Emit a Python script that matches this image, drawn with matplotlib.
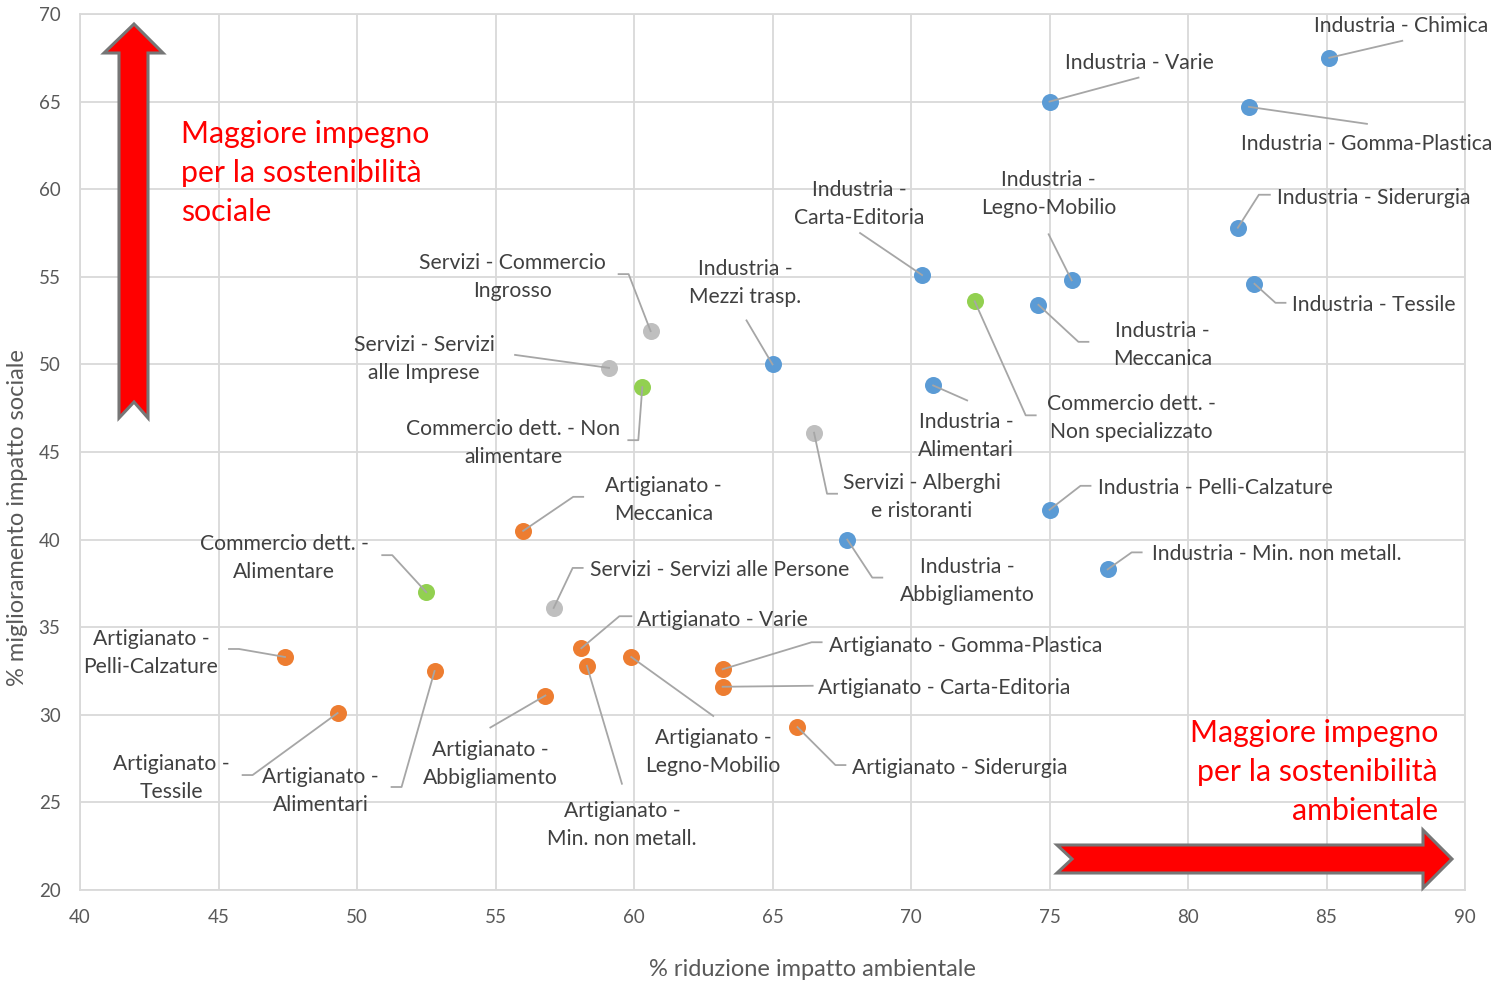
import matplotlib
matplotlib.use("Agg")
import matplotlib.pyplot as plt
from matplotlib.patches import Polygon
from matplotlib.lines import Line2D
from matplotlib.transforms import Affine2D, IdentityTransform

# ---------------- data ----------------
ind_names = ["Industria - Chimica", "Industria - Varie", "Industria - Gomma-Plastica",
             "Industria - Siderurgia", "Industria -\nCarta-Editoria", "Industria -\nLegno-Mobilio",
             "Industria - Tessile", "Industria -\nMeccanica", "Industria -\nMezzi trasp.",
             "Industria -\nAlimentari", "Industria - Pelli-Calzature", "Industria -\nAbbigliamento",
             "Industria - Min. non metall."]
ind_x = [85.1, 75.0, 82.2, 81.8, 70.4, 75.8, 82.4, 74.6, 65.0, 70.8, 75.0, 67.7, 77.1]
ind_y = [67.5, 65.0, 64.7, 57.8, 55.1, 54.8, 54.6, 53.4, 50.0, 48.8, 41.7, 40.0, 38.3]

com_names = ["Commercio dett. -\nNon specializzato", "Commercio dett. - Non\nalimentare",
             "Commercio dett. -\nAlimentare"]
com_x = [72.3, 60.3, 52.5]
com_y = [53.6, 48.7, 37.0]

ser_names = ["Servizi - Commercio\nIngrosso", "Servizi - Servizi\nalle Imprese",
             "Servizi - Alberghi\ne ristoranti", "Servizi - Servizi alle Persone"]
ser_x = [60.6, 59.1, 66.5, 57.1]
ser_y = [51.9, 49.8, 46.1, 36.1]

art_names = ["Artigianato -\nMeccanica", "Artigianato -\nPelli-Calzature", "Artigianato -\nTessile",
             "Artigianato -\nAlimentari", "Artigianato -\nAbbigliamento", "Artigianato - Varie",
             "Artigianato -\nMin. non metall.", "Artigianato -\nLegno-Mobilio",
             "Artigianato - Gomma-Plastica", "Artigianato - Carta-Editoria", "Artigianato - Siderurgia"]
art_x = [56.0, 47.4, 49.3, 52.8, 56.8, 58.1, 58.3, 59.9, 63.2, 63.2, 65.9]
art_y = [40.5, 33.3, 30.1, 32.5, 31.1, 33.8, 32.8, 33.3, 32.6, 31.6, 29.3]

x_ticks = [40, 45, 50, 55, 60, 65, 70, 75, 80, 85, 90]
y_ticks = [20, 25, 30, 35, 40, 45, 50, 55, 60, 65, 70]

# ---------------- layout (label offsets in px, y downward) ----------------
ind_lab = [((72, -34), [(73, -17)]),
           ((90, -41), [(89, -24)]),
           ((118, 35), [(118, 17)]),
           ((136, -32), [(21, -33), (32, -33)]),
           ((-63, -73), [(-62, -42)]),
           ((-23, -88), [(-23, -46)]),
           ((119, 19), [(21, 19), (31, 19)]),
           ((124, 38), [(40, 37), (50, 37)]),
           ((-27, -83), [(-26, -44)]),
           ((33, 49), [(34, 15)]),
           ((166, -24), [(31, -24), (41, -24)]),
           ((120, 39), [(25, 38), (35, 38)]),
           ((169, -17), [(24, -17), (34, -17)])]
com_lab = [((157, 115), [(51, 114), (61, 114)]),
           ((-129, 54), [(-4, 53), (-14, 53)]),
           ((-142, -36), [(-34, -37), (-44, -37)])]
ser_lab = [((-138, -56), [(-22, -57), (-32, -57)]),
           ((-185, -11), [(-94, -13)]),
           ((108, 62), [(13, 61), (23, 61)]),
           ((166, -40), [(19, -40), (29, -40)])]
art_lab = [((140, -33), [(50, -34), (60, -34)]),
           ((-134, -6), [(-46, -8), (-56, -8)]),
           ((-166, 63), [(-85, 62), (-95, 62)]),
           ((-114, 118), [(-33, 116), (-43, 116)]),
           ((-55, 66), [(-55, 32)]),
           ((141, -30), [(38, -32), (50, -32)]),
           ((35, 157), [(35, 118)]),
           ((82, 93), [(82, 59)]),
           ((243, -25), [(89, -27), (99, -27)]),
           ((222, -1), [(90, -1)]),
           ((162, 39), [(38, 38), (48, 38)])]

W, H = 1493, 982
FONT = ["Lato", "DejaVu Sans"]
plt.rcParams['font.family'] = FONT

fig = plt.figure(figsize=(W / 100, H / 100), dpi=100)
ax = fig.add_axes([80 / W, 1 - 890 / H, (1465 - 80) / W, (890 - 14) / H])
ax.set_xlim(40, 90)
ax.set_ylim(20, 70)
ax.set_xticks(x_ticks)
ax.set_yticks(y_ticks)
ax.grid(True, color="#d9d9d9", linewidth=1.3)
ax.set_axisbelow(True)
for s in ax.spines.values():
    s.set_color("#d9d9d9")
    s.set_linewidth(1.3)
ax.tick_params(length=0, labelsize=13.5, colors="#595959", pad=14)
ax.tick_params(axis="x", pad=14)
ax.set_xlabel("% riduzione impatto ambientale", fontsize=17, color="#595959")
ax.xaxis.set_label_coords((812 - 80) / 1385, -(969 - 890) / 876)
ax.set_ylabel("% miglioramento impatto sociale", fontsize=17, color="#595959")
ax.yaxis.set_label_coords(-(80 - 18) / 1385, (890 - 518) / 876)
ax.xaxis.label.set_va("center")
ax.yaxis.label.set_va("center")

groups = [(ind_x, ind_y, ind_names, ind_lab, "#5b9bd5"),
          (com_x, com_y, com_names, com_lab, "#92d050"),
          (ser_x, ser_y, ser_names, ser_lab, "#bfbfbf"),
          (art_x, art_y, art_names, art_lab, "#ed7d31")]

fig.canvas.draw()
for xs, ys, names, labs, col in groups:
    ax.scatter(xs, ys, s=150, color=col, zorder=4, linewidths=0)
    for x, y, name, (toff, path) in zip(xs, ys, names, labs):
        px, py = ax.transData.transform((x, y))
        vx = [px] + [px + dx for dx, dy in path]
        vy = [py] + [py - dy for dx, dy in path]
        fig.add_artist(Line2D(vx, vy, transform=IdentityTransform(), color="#a6a6a6",
                              linewidth=1.3, zorder=3))
        ax.annotate(name, xy=(x, y), xycoords="data",
                    xytext=(toff[0] * 0.72, -(toff[1] + 2) * 0.72), textcoords="offset points",
                    ha="center", va="center", fontsize=15.2, color="#404040",
                    linespacing=1.5, zorder=5)

# pixel transform (reference pixels, y down)
pxT = Affine2D().scale(1 / W, -1 / H).translate(0, 1) + fig.transFigure

up_arrow = [(134, 24), (163, 53), (148, 53), (148, 418), (134, 402), (119, 418), (119, 53), (104, 53)]
right_arrow = [(1452, 859), (1423, 888), (1423, 873), (1057, 873), (1072, 859), (1057, 845),
               (1423, 845), (1423, 830)]
for pts in (up_arrow, right_arrow):
    fig.add_artist(Polygon(pts, closed=True, transform=pxT, facecolor="#ff0000",
                           edgecolor="#767676", linewidth=2.2, zorder=6))

fig.text(181, 173, "Maggiore impegno\nper la sostenibilità\nsociale", transform=pxT,
         ha="left", va="center", fontsize=21.8, color="#ff0000", linespacing=1.46)
fig.text(1438, 772, "Maggiore impegno\nper la sostenibilità\nambientale", transform=pxT,
         ha="right", va="center", fontsize=21.8, color="#ff0000", linespacing=1.46,
         multialignment="right")

fig.savefig("out.png", dpi=100)
